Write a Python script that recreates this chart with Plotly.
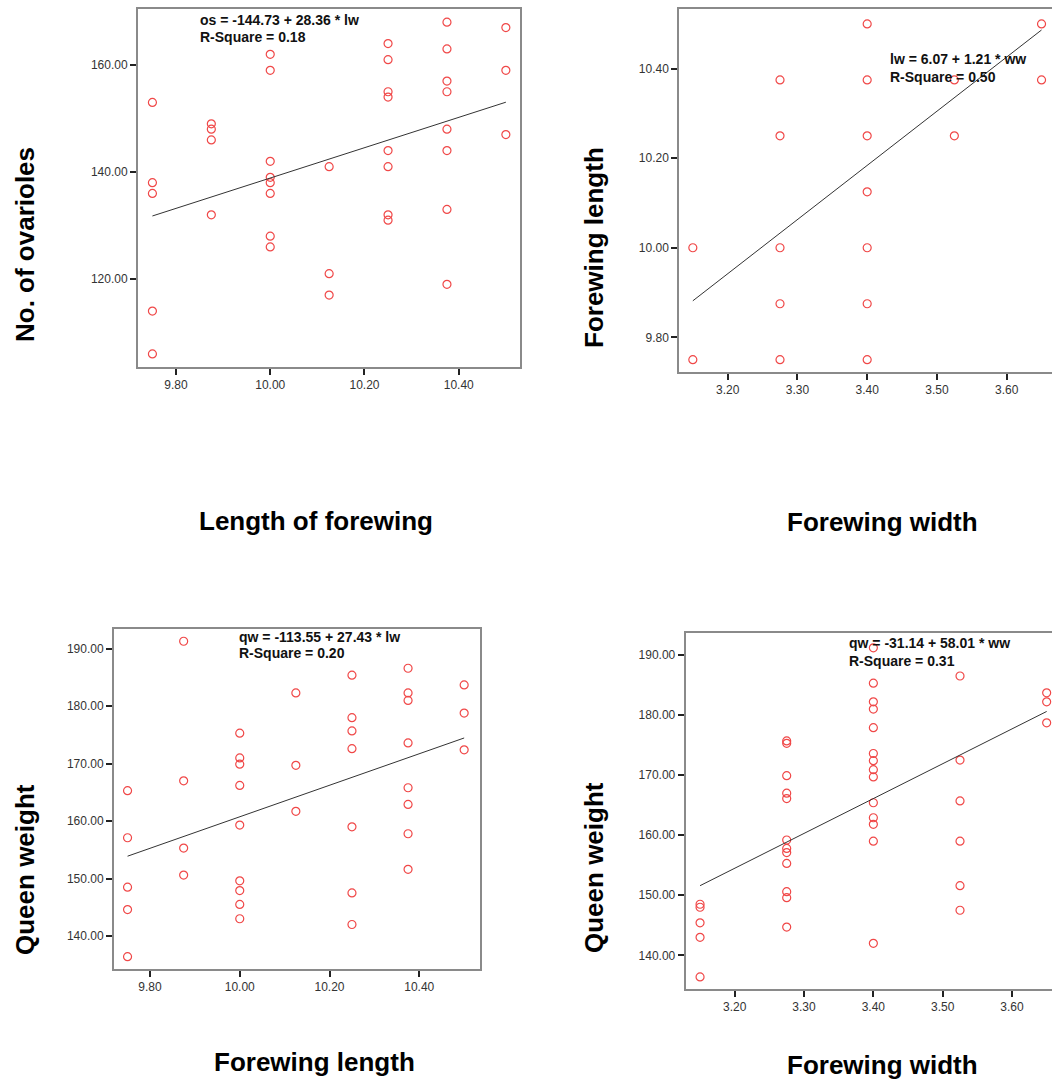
import plotly.graph_objects as go

W, H = 1052, 1079

# ---------------- data ----------------
# Panel 1: Length of forewing (lw) vs No. of ovarioles (os)
p1_x = [9.75]*5 + [9.875]*4 + [10.0]*8 + [10.125]*3 + [10.25]*8 + [10.375]*8 + [10.5]*3
p1_y = [153, 138, 136, 114, 106,
        149, 148, 146, 132,
        162, 159, 142, 139, 138, 136, 128, 126,
        141, 121, 117,
        164, 161, 155, 154, 144, 141, 132, 131,
        168, 163, 157, 155, 148, 144, 133, 119,
        167, 159, 147]

# Panel 2: Forewing width (ww) vs Forewing length (lw)
p2_x = [3.15]*2 + [3.275]*5 + [3.40]*7 + [3.525]*2 + [3.65]*2
p2_y = [10.0, 9.75,
        10.375, 10.25, 10.0, 9.875, 9.75,
        10.5, 10.375, 10.25, 10.125, 10.0, 9.875, 9.75,
        10.375, 10.25,
        10.5, 10.375]

# Panel 3: Forewing length (lw) vs Queen weight (qw)
p3_x = [9.75]*5 + [9.875]*4 + [10.0]*9 + [10.125]*3 + [10.25]*7 + [10.375]*8 + [10.5]*3
p3_y = [165.3, 157.1, 148.5, 144.6, 136.4,
        191.3, 167.0, 155.3, 150.6,
        175.3, 171.0, 169.9, 166.2, 159.3, 149.6, 147.9, 145.5, 143.0,
        182.3, 169.7, 161.7,
        185.4, 178.0, 175.7, 172.6, 159.0, 147.5, 142.0,
        186.6, 182.3, 181.0, 173.6, 165.8, 162.9, 157.8, 151.6,
        183.7, 178.8, 172.4]

# Panel 4: Forewing width (ww) vs Queen weight (qw)
p4_x = [3.15]*5 + [3.275]*12 + [3.40]*14 + [3.525]*6 + [3.65]*3
p4_y = [148.5, 148.0, 145.4, 143.0, 136.4,
        175.7, 175.3, 169.9, 167.0, 166.1, 159.2, 157.8, 157.1, 155.3, 150.6, 149.6, 144.7,
        191.2, 185.3, 182.2, 181.0, 177.9, 173.6, 172.4, 170.9, 169.7, 165.4, 162.9, 161.8, 159.0, 142.0,
        186.5, 172.5, 165.7, 159.0, 151.6, 147.5,
        183.7, 182.2, 178.7]

# regression coefficients (intercept, slope) as printed
intercepts = [-144.73, 6.07, -113.55, -31.14]
slopes = [28.36, 1.21, 27.43, 58.01]
equations = ["os = -144.73 + 28.36 * lw", "lw = 6.07 + 1.21 * ww",
             "qw = -113.55 + 27.43 * lw", "qw = -31.14 + 58.01 * ww"]
r_squares = ["R-Square = 0.18", "R-Square = 0.50", "R-Square = 0.20", "R-Square = 0.31"]

x_titles = ["Length of forewing", "Forewing width", "Forewing length", "Forewing width"]
y_titles = ["No. of ovarioles", "Forewing length", "Queen weight", "Queen weight"]

x_ticks = [[9.8, 10.0, 10.2, 10.4], [3.2, 3.3, 3.4, 3.5, 3.6],
           [9.8, 10.0, 10.2, 10.4], [3.2, 3.3, 3.4, 3.5, 3.6]]
y_ticks = [[120, 140, 160], [9.8, 10.0, 10.2, 10.4],
           [140, 150, 160, 170, 180, 190], [140, 150, 160, 170, 180, 190]]

# ---------------- layout geometry (pixels) ----------------
# plot boxes: left, right, top, bottom
boxes = [(138, 520, 9, 367), (679.3, 1052, 9.3, 372),
         (114, 480, 628.5, 968.7), (685.7, 1052, 633.3, 988.7)]
x_ranges = [[9.7194, 10.530], [3.1306, 3.665], [9.7198, 10.5353], [3.1293, 3.6577]]
y_ranges = [[103.55, 170.47], [9.7225, 10.5327], [134.31, 193.52], [134.44, 193.61]]

eq_pos = [(197.7, 20, 36.7), (887.7, 59, 76.7), (237.3, 636.7, 653.3), (847.3, 643.3, 660.7)]
xt_pos = [(315.5, 521), (882, 522), (314, 1062), (882, 1065)]
yt_pos = [(25, 245), (594, 248), (25, 870), (594, 868)]

xs = [p1_x, p2_x, p3_x, p4_x]
ys = [p1_y, p2_y, p3_y, p4_y]

FONT = "Liberation Sans, Arial, sans-serif"
fig = go.Figure()
annotations = []
layout = {}

for i in range(4):
    n = "" if i == 0 else str(i + 1)
    xa, ya = "x" + n, "y" + n
    fig.add_trace(go.Scatter(
        x=xs[i], y=ys[i], mode="markers", xaxis=xa, yaxis=ya,
        marker=dict(symbol="circle-open", size=8, color="#f04848", line=dict(width=1.2)),
        showlegend=False, hoverinfo="x+y"))
    x0, x1 = min(xs[i]), max(xs[i])
    fig.add_trace(go.Scatter(
        x=[x0, x1], y=[intercepts[i] + slopes[i] * x0, intercepts[i] + slopes[i] * x1],
        mode="lines", xaxis=xa, yaxis=ya, line=dict(color="#333333", width=1),
        showlegend=False, hoverinfo="skip"))

    l, r, t, b = boxes[i]
    right_clipped = r >= W
    common = dict(showgrid=False, zeroline=False, showline=True, linecolor="#8a8a8a",
                  linewidth=2, ticks="outside", ticklen=6, tickwidth=2, tickcolor="#222222",
                  tickformat=".2f", tickfont=dict(family=FONT, size=12, color="#333333"))
    layout["xaxis" + n] = dict(common, domain=[l / W, r / W], range=x_ranges[i],
                               tickvals=x_ticks[i], anchor=ya, mirror=True)
    layout["yaxis" + n] = dict(common, domain=[1 - b / H, 1 - t / H], range=y_ranges[i],
                               tickvals=y_ticks[i], anchor=xa,
                               mirror=(False if right_clipped else True))

    ex, ey1, ey2 = eq_pos[i]
    for txt, yy in ((equations[i], ey1), (r_squares[i], ey2)):
        annotations.append(dict(xref="paper", yref="paper", x=ex / W, y=1 - yy / H,
                                xanchor="left", yanchor="middle", showarrow=False,
                                text="<b>" + txt + "</b>",
                                font=dict(family=FONT, size=14, color="#111111")))
    tx, ty = xt_pos[i]
    annotations.append(dict(xref="paper", yref="paper", x=tx / W, y=1 - ty / H,
                            xanchor="center", yanchor="middle", showarrow=False,
                            text="<b>" + x_titles[i] + "</b>",
                            font=dict(family=FONT, size=26, color="#000000")))
    yx, yy = yt_pos[i]
    annotations.append(dict(xref="paper", yref="paper", x=yx / W, y=1 - yy / H,
                            xanchor="center", yanchor="middle", showarrow=False,
                            textangle=-90, text="<b>" + y_titles[i] + "</b>",
                            font=dict(family=FONT, size=26, color="#000000")))

fig.update_layout(width=W, height=H, margin=dict(l=0, r=0, t=0, b=0),
                  paper_bgcolor="white", plot_bgcolor="white",
                  annotations=annotations, **layout)
fig.write_html("out.html", config={"displayModeBar": False},
               post_script="document.body.style.margin='0';"
                           "document.body.style.overflow='hidden';"
                           "document.documentElement.style.overflow='hidden';")
